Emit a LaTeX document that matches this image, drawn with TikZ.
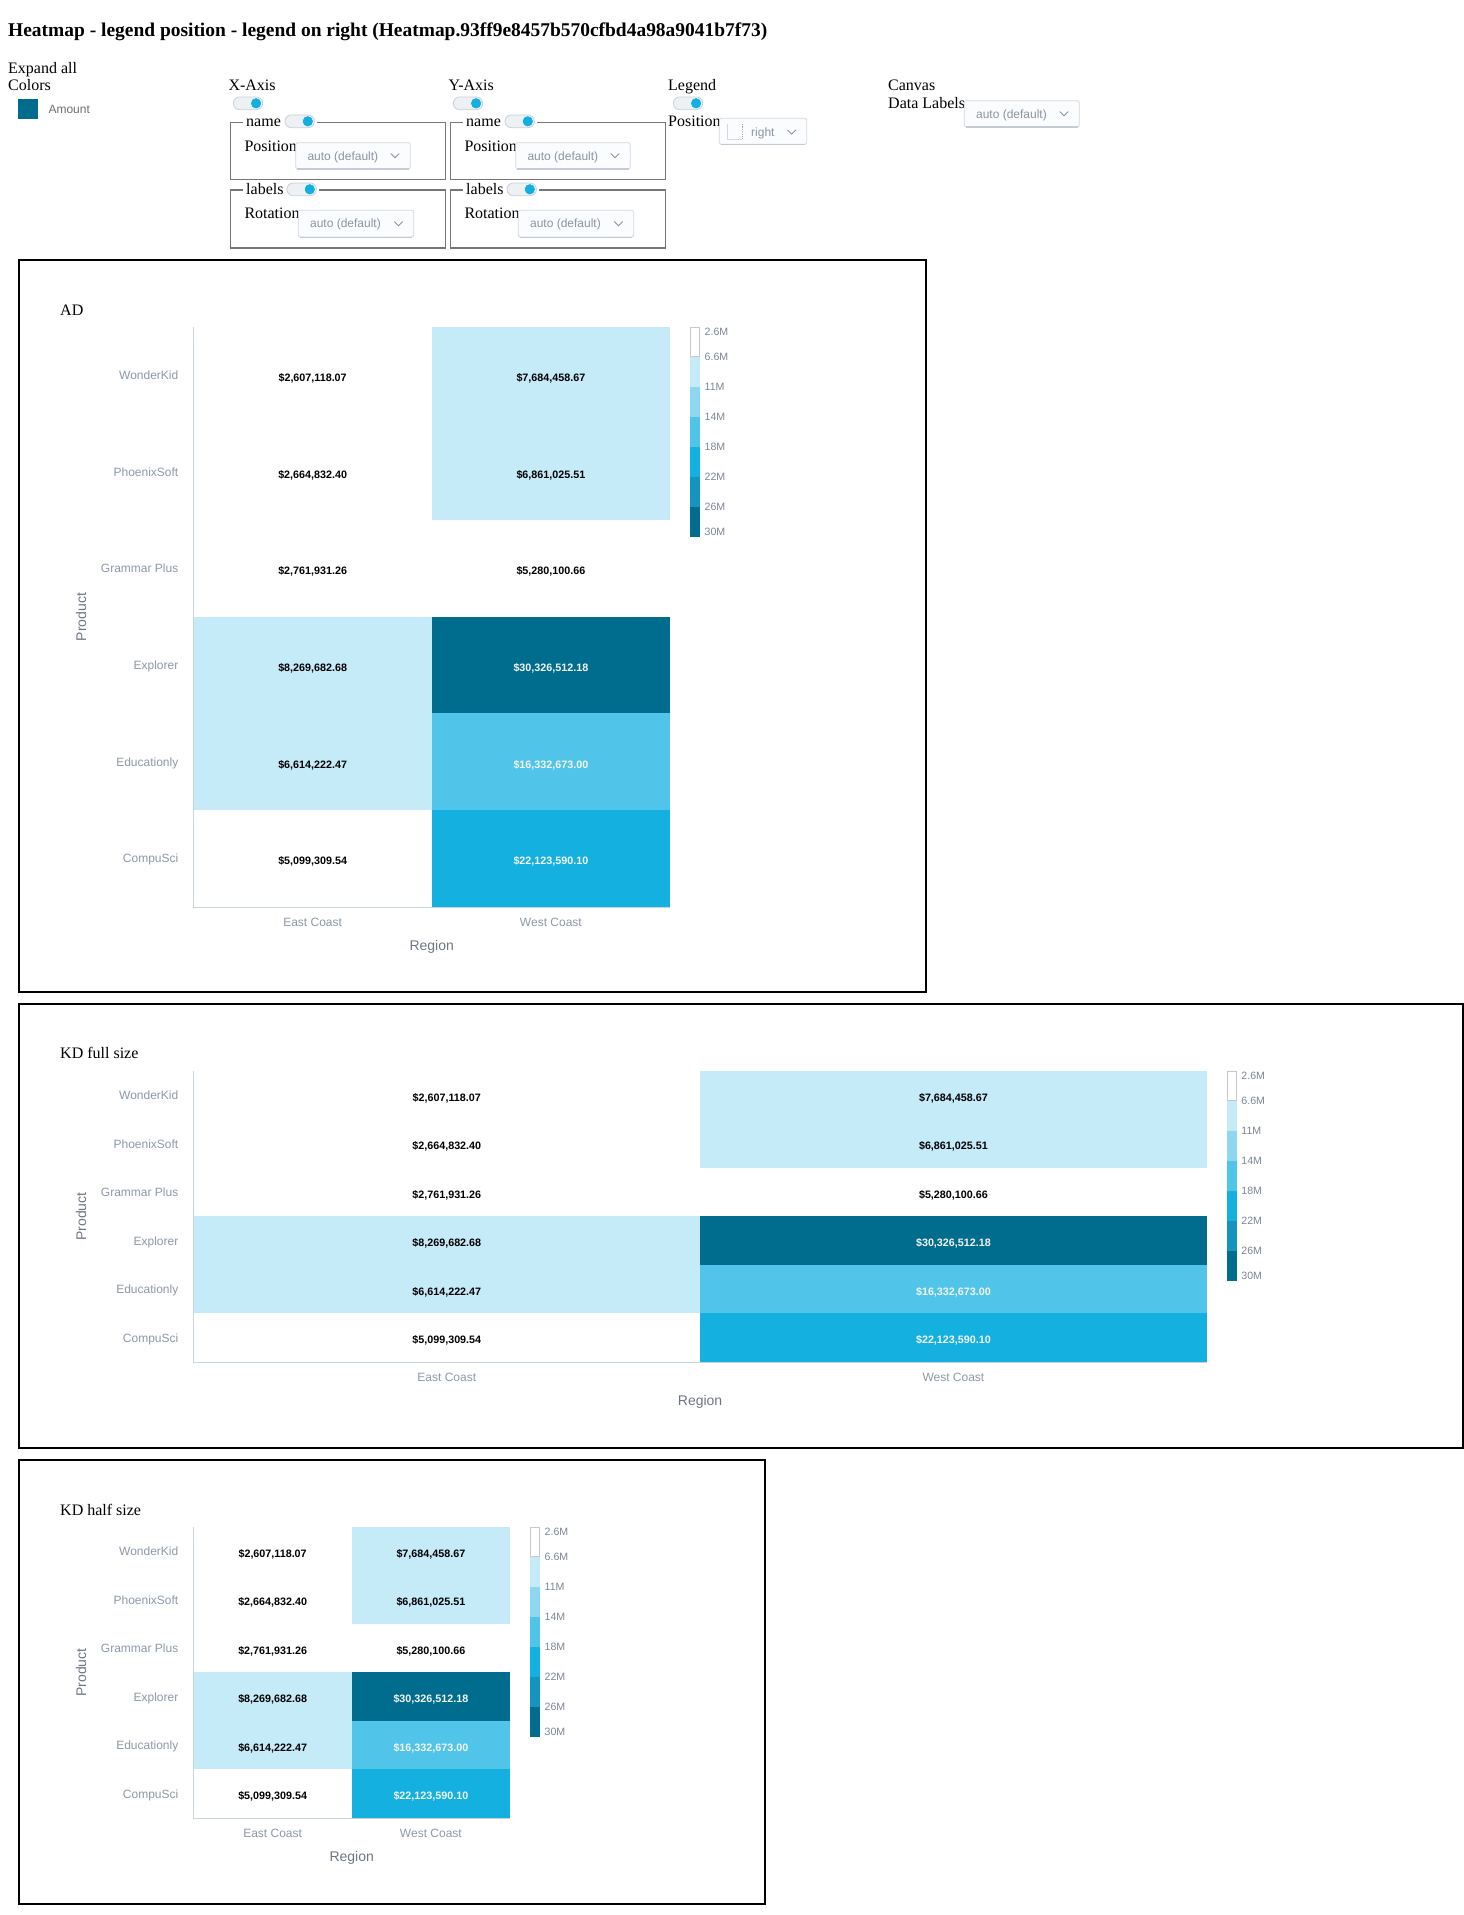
\documentclass[tikz,border=0pt]{standalone}
\usepackage{fontspec}
\setmainfont{Liberation Serif}
\setsansfont{Liberation Sans}
\usetikzlibrary{calc}
\definecolor{hmlight}{HTML}{C6EBF8}
\definecolor{hmlt2}{HTML}{8DD8F0}
\definecolor{hmmed}{HTML}{50C5E9}
\definecolor{hmbright}{HTML}{14B1E0}
\definecolor{hmdeep}{HTML}{1494BF}
\definecolor{hmdark}{HTML}{006D8F}
\definecolor{valwhite}{HTML}{F4F4F4}
\definecolor{ticktxt}{HTML}{8D98A7}
\definecolor{axtitle}{HTML}{6E7683}
\definecolor{axline}{HTML}{C8D3E0}
\definecolor{legtxt}{HTML}{7D8594}
\definecolor{legborder}{HTML}{C8C8C8}
\definecolor{ddborder}{HTML}{D3D9E1}
\definecolor{ddshade}{HTML}{C4CBD4}
\definecolor{ddfill}{HTML}{FBFCFD}
\definecolor{ddtxt}{HTML}{8A94A2}
\definecolor{tgfill}{HTML}{EEF1F4}
\definecolor{tgborder}{HTML}{C9D0D9}
\definecolor{tgknob}{HTML}{14AEDF}
\definecolor{fsborder}{HTML}{767676}
\definecolor{amountgray}{HTML}{6F6F6F}

\tikzset{
  sertxt/.style={font=\fontsize{16}{19}\selectfont, inner sep=0pt, anchor=base west},
  pagetitle/.style={font=\bfseries\fontsize{19.45}{23}\selectfont, inner sep=0pt, anchor=base west},
  ddtext/.style={font=\sffamily\fontsize{12}{14}\selectfont, text=ddtxt, inner sep=0pt, anchor=west, text height=8.6pt, text depth=0pt},
  ddbox/.style={draw=ddborder, fill=ddfill, line width=0.8pt, rounded corners=2pt},
  ddshadow/.style={draw=ddshade, line width=1.2pt},
  chev/.style={draw=ddtxt, line width=0.9pt},
  tgpill/.style={draw=tgborder, fill=tgfill, line width=0.8pt, rounded corners=6.3pt},
  tgknob/.style={fill=tgknob, draw=white, line width=0.5pt},
  fsline/.style={draw=fsborder, line width=1.4pt},
  chartbox/.style={draw=black, line width=2pt},
  hmcell/.style={draw=none, inner sep=0pt, outer sep=0pt},
  cellval/.style={font=\sffamily\bfseries\fontsize{10.75}{12}\selectfont, inner sep=0pt, text height=7.7pt, text depth=0pt},
  ticklab/.style={font=\sffamily\fontsize{12}{14}\selectfont, text=ticktxt, inner sep=0pt, text height=8.6pt, text depth=0pt},
  axttl/.style={font=\sffamily\fontsize{14}{16}\selectfont, text=axtitle, inner sep=0pt},
  leglab/.style={font=\sffamily\fontsize{10.6}{12}\selectfont, text=legtxt, inner sep=0pt, anchor=west, text height=7.6pt, text depth=0pt},
  axl/.style={draw=axline, line width=1pt},
  sans12/.style={font=\sffamily\fontsize{12}{14}\selectfont, inner sep=0pt, text height=8.6pt, text depth=0pt}
}

% toggle: left x, center y
\newcommand\tgswitch[2]{%
  \draw[tgpill] (#1,{#2-6.35}) rectangle ({#1+29.4},{#2+6.35});
  \fill[tgknob] ({#1+22.8},#2) circle (5.6);
}
% fieldset: x1 y1 x2 y2 gapstart gapend
\newcommand\fsbox[6]{%
  \draw[fsline] (#5,#2) -- (#1,#2) -- (#1,#4) -- (#3,#4) -- (#3,#2) -- (#6,#2);
}
% dropdown: name x1 y1 x2 y2 text
\newcommand\ddmenu[6]{%
  \draw[ddbox] (#2,#3) rectangle (#4,#5);
  \draw[ddshadow] ({#2+1.5},{#5+0.2}) -- ({#4-1.5},{#5+0.2});
  \node[ddtext] (#1) at ({#2+11.6},{(#3+#5)/2}) {#6};
  \draw[chev] ({#4-19.5},{(#3+#5)/2-2.1}) -- ({#4-15.3},{(#3+#5)/2+2.1}) -- ({#4-11.1},{(#3+#5)/2-2.1});
}
% axis control panel
\newcommand\axispanel[3]{%
  \begin{scope}[xshift=#2pt]
    \node[sertxt] (#1-title) at (228.3,90.7) {#3};
    \tgswitch{233.3}{103.3}
    \fsbox{230.7}{122.7}{445.3}{179.7}{242.7}{317.3}
    \node[sertxt] (#1-name) at (246,126.7) {name};
    \tgswitch{285}{121.3}
    \node[sertxt] (#1-pos) at (244.3,151) {Position};
    \ddmenu{#1-posdd}{295.7}{142.7}{410.3}{168.7}{auto (default)}
    \fsbox{230.7}{190}{445.3}{248}{242.7}{319}
    \node[sertxt] (#1-labels) at (246,194.3) {labels};
    \tgswitch{287}{189.3}
    \node[sertxt] (#1-rot) at (244.3,218.7) {Rotation};
    \ddmenu{#1-rotdd}{298.3}{210.3}{413.7}{237}{auto (default)}
  \end{scope}
}
% heatmap row
\newcommand\hmrow[8]{%
  \pgfmathsetmacro\hmyc{\hmT+(#1-0.5)*\hmH}%
  \pgfmathsetmacro\hmxa{\hmL+0.5*\hmW}%
  \pgfmathsetmacro\hmxb{\hmL+1.5*\hmW}%
  \node[hmcell, fill=#4, minimum width=\hmWW pt, minimum height=\hmHH pt] (\hmP-c#1a) at (\hmxa,\hmyc) {};
  \node[hmcell, fill=#7, minimum width=\hmWW pt, minimum height=\hmHH pt] (\hmP-c#1b) at (\hmxb,\hmyc) {};
  \node[cellval, text=#5] (\hmP-v#1a) at ([yshift=-2.2pt]\hmP-c#1a.center) {#3};
  \node[cellval, text=#8] (\hmP-v#1b) at ([yshift=-2.2pt]\hmP-c#1b.center) {#6};
  \node[ticklab, anchor=east] (\hmP-y#1) at ({\hmL-15},\hmyc) {#2};
}
% heatmap chart: prefix L T W H
\newcommand\hmchart[5]{%
  \def\hmP{#1}\def\hmL{#2}\def\hmT{#3}\def\hmW{#4}\def\hmH{#5}%
  \pgfmathsetmacro\hmWW{#4+0.4}%
  \pgfmathsetmacro\hmHH{#5+0.4}%
  \pgfmathsetmacro\hmR{#2+2*#4}%
  \pgfmathsetmacro\hmB{#3+6*#5}%
  \pgfmathsetmacro\hmMid{(#3+\hmB)/2}%
  \pgfmathsetmacro\hmCx{#2+#4}%
  \hmrow{1}{WonderKid}{\$2,607,118.07}{white}{black}{\$7,684,458.67}{hmlight}{black}
  \hmrow{2}{PhoenixSoft}{\$2,664,832.40}{white}{black}{\$6,861,025.51}{hmlight}{black}
  \hmrow{3}{Grammar Plus}{\$2,761,931.26}{white}{black}{\$5,280,100.66}{white}{black}
  \hmrow{4}{Explorer}{\$8,269,682.68}{hmlight}{black}{\$30,326,512.18}{hmdark}{valwhite}
  \hmrow{5}{Educationly}{\$6,614,222.47}{hmlight}{black}{\$16,332,673.00}{hmmed}{valwhite}
  \hmrow{6}{CompuSci}{\$5,099,309.54}{white}{black}{\$22,123,590.10}{hmbright}{valwhite}
  \draw[axl] (\hmL,\hmT) -- (\hmL,{\hmB+0.5}) -- (\hmR,{\hmB+0.5});
  \node[ticklab, anchor=base] (\hmP-x1) at ({\hmL+0.5*\hmW},{\hmB+19}) {East Coast};
  \node[ticklab, anchor=base] (\hmP-x2) at ({\hmL+1.5*\hmW},{\hmB+19}) {West Coast};
  \node[axttl, anchor=base] (\hmP-xt) at (\hmCx,{\hmB+43.5}) {Region};
  \node[axttl, rotate=90, text height=10pt, text depth=0pt] (\hmP-yt) at (81,\hmMid) {Product};
  \pgfmathsetmacro\hmLX{\hmR+20}%
  \foreach \k/\c in {1/white,2/hmlight,3/hmlt2,4/hmmed,5/hmbright,6/hmdeep,7/hmdark}{%
    \fill[\c] (\hmLX,{\hmT+(\k-1)*30}) rectangle ({\hmLX+10},{\hmT+\k*30+0.3});
  }
  \draw[legborder, line width=0.9pt] ({\hmLX+0.45},{\hmT+0.45}) rectangle ({\hmLX+9.55},{\hmT+29.7});
  \foreach \lab/\off [count=\n] in {2.6M/5,6.6M/30,11M/60,14M/90,18M/120,22M/150,26M/180,30M/205}{%
    \node[leglab] (\hmP-leg\n) at ({\hmLX+14.5},{\hmT+\off}) {\lab};
  }
}

\begin{document}
\begin{tikzpicture}[x=1pt, y=-1pt]
\useasboundingbox (0,0) rectangle (1464,1915);
\fill[white] (0,0) rectangle (1464,1915);

% page title and controls
\node[pagetitle] (pagetitle) at (8,36) {Heatmap - legend position - legend on right (Heatmap.93ff9e8457b570cfbd4a98a9041b7f73)};
\node[sertxt] (expand) at (8,73.3) {Expand all};
\node[sertxt] (colors) at (8,90.7) {Colors};
\node[fill=hmdark, minimum size=20pt, inner sep=0pt, anchor=north west] (swatch) at (18,99) {};
\node[sans12, text=amountgray, anchor=west] (amount) at (48.3,109) {Amount};

\axispanel{xax}{0}{X-Axis}
\axispanel{yax}{220}{Y-Axis}

% legend controls
\node[sertxt] (legttl) at (668,90.7) {Legend};
\tgswitch{673.3}{103.3}
\node[sertxt] (legpos) at (668,126.7) {Position};
\draw[ddbox] (719.3,118.3) rectangle (806.7,144.3);
\draw[ddshadow] (720.8,144.5) -- (805.2,144.5);
\draw[draw=ddborder, line width=0.8pt] (727.8,124) -- (727.8,139.3) -- (742,139.3);
\draw[draw=ddtxt!80, line width=0.8pt, dash pattern=on 1.2pt off 1.2pt] (742,124) -- (742,139.3);
\node[ddtext] (legposval) at (751,132) {right};
\draw[chev] (787.5,129.9) -- (791.7,134.1) -- (795.9,129.9);

% canvas controls
\node[sertxt] (canvas) at (888,90.7) {Canvas};
\node[sertxt] (datalabels) at (888,108.7) {Data Labels};
\ddmenu{dldd}{964.3}{100.7}{1079.3}{126.7}{auto (default)}

% chart AD
\draw[chartbox] (19.2,260.2) rectangle (925.5,991.6);
\node[sertxt] (ad-title) at (60,315.3) {AD};
\hmchart{ad}{193.5}{327}{238.25}{96.667}

% chart KD full size
\draw[chartbox] (19.2,1004) rectangle (1462.6,1447.7);
\node[sertxt] (kdf-title) at (60,1058.8) {KD full size};
\hmchart{kdf}{193.5}{1071}{506.6}{48.5}

% chart KD half size
\draw[chartbox] (19.2,1460) rectangle (765.3,1904);
\node[sertxt] (kdh-title) at (60,1515) {KD half size};
\hmchart{kdh}{193.5}{1527}{158.25}{48.5}
\end{tikzpicture}
\end{document}
